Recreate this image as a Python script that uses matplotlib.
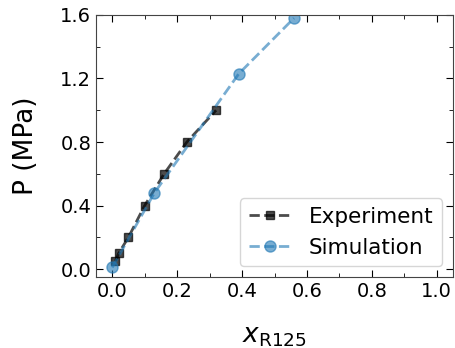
import numpy as np
import matplotlib
matplotlib.use("Agg")
import matplotlib.pyplot as plt
from matplotlib.ticker import MultipleLocator

# data
exp_x = [0.01, 0.02, 0.05, 0.10, 0.16, 0.23, 0.32]
exp_p = [0.05, 0.10, 0.20, 0.40, 0.60, 0.80, 1.00]
sim_x = [0.0, 0.13, 0.39, 0.56]
sim_p = [0.01, 0.48, 1.23, 1.58]

xticks = [0.0, 0.2, 0.4, 0.6, 0.8, 1.0]
yticks = [0.0, 0.4, 0.8, 1.2, 1.6]

fig = plt.figure(figsize=(4.56, 3.48), dpi=100)
ax = fig.add_axes([0.2105, 0.204, 0.783, 0.753])

ax.plot(exp_x, exp_p, '--s', color='black', alpha=0.7, lw=2, ms=6, label='Experiment')
ax.plot(sim_x, sim_p, '--o', color='tab:blue', alpha=0.6, lw=2, ms=8, label='Simulation')

ax.set_xlim(-0.05, 1.05)
ax.set_ylim(-0.05, 1.6)
ax.set_xticks(xticks)
ax.set_yticks(yticks)
ax.xaxis.set_minor_locator(MultipleLocator(0.1))
ax.yaxis.set_minor_locator(MultipleLocator(0.2))
ax.tick_params(which='both', direction='in', top=True, right=True, labelsize=14)
ax.tick_params(which='major', length=5)
ax.tick_params(which='minor', length=3)
for s in ax.spines.values():
    s.set_color('#444444')

ax.set_xlabel(r'$x_{\mathrm{R125}}$', fontsize=19, labelpad=16)
ax.set_ylabel('P (MPa)', fontsize=19, labelpad=15)
ax.legend(loc='lower right', fontsize=15.5)

plt.savefig("out.png")
